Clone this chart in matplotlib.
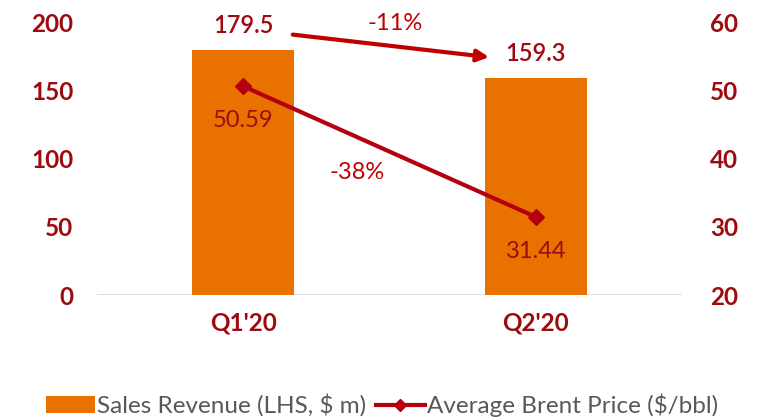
import matplotlib.pyplot as plt
import numpy as np

plt.rcParams['font.family'] = ['Lato', 'DejaVu Sans']

# data
quarters = ["Q1'20", "Q2'20"]
revenue = [179.5, 159.3]
brent = [50.59, 31.44]
rev_change = "-11%"
brent_change = "-38%"

bar_color = '#E97100'
line_color = '#B5000F'
tick_color = '#9E0B0F'
red_text = '#C00000'

fig = plt.figure(figsize=(7.57, 4.2), dpi=100)
ax = fig.add_axes([0.128, 0.2976, 0.773, 0.65])
ax2 = ax.twinx()

x = np.arange(len(quarters))
bars = ax.bar(x, revenue, width=0.35, color=bar_color, label='Sales Revenue (LHS, $ m)', zorder=2)
ax.set_xlim(-0.5, 1.5)
ax.set_ylim(0, 200)
ax.set_yticks([0, 50, 100, 150, 200])
ax.set_xticks(x)
ax.set_xticklabels(quarters)

line, = ax2.plot(x, brent, color=line_color, lw=3, marker='D', ms=8,
                 label='Average Brent Price ($/bbl)', zorder=3)
ax2.set_ylim(20, 60)
ax2.set_yticks([20, 30, 40, 50, 60])

for a in (ax, ax2):
    for s in a.spines.values():
        s.set_visible(False)
    a.tick_params(length=0, labelsize=17.5, labelcolor=tick_color)
    for lab in a.get_yticklabels() + a.get_xticklabels():
        lab.set_fontweight('bold')
ax.tick_params(axis='y', pad=17)
ax2.tick_params(axis='y', pad=20)
ax.tick_params(axis='x', pad=12)
ax.axhline(0, color='#D9D9D9', lw=1.2, zorder=1)

# value labels
for xi, v in zip(x, revenue):
    ax.annotate(f'{v}', (xi, v), xytext=(0, 9), textcoords='offset points',
                ha='center', va='bottom', fontsize=17, color=tick_color, fontweight='semibold')
for xi, v in zip(x, brent):
    ax2.annotate(f'{v:.2f}', (xi, v), xytext=(0, -25), textcoords='offset points',
                 ha='center', va='center', fontsize=17, color=tick_color)

# change arrows
ax.annotate('', xy=(0.85, 174), xytext=(0.16, 191),
            arrowprops=dict(arrowstyle='-|>,head_length=0.7,head_width=0.35', color=red_text, lw=3))
ax.text(0.52, 199, rev_change, ha='center', va='center', fontsize=17, color=red_text)
ax.text(0.39, 90, brent_change, ha='center', va='center', fontsize=17, color=red_text)

fig.legend(handles=[bars, line], loc='lower center', bbox_to_anchor=(0.505, -0.045), ncol=2,
           frameon=False, fontsize=17.5, labelcolor='#595959', handlelength=2.0,
           handletextpad=0.1, columnspacing=0.4, markerscale=0.8)

fig.savefig('out.png', dpi=100)
